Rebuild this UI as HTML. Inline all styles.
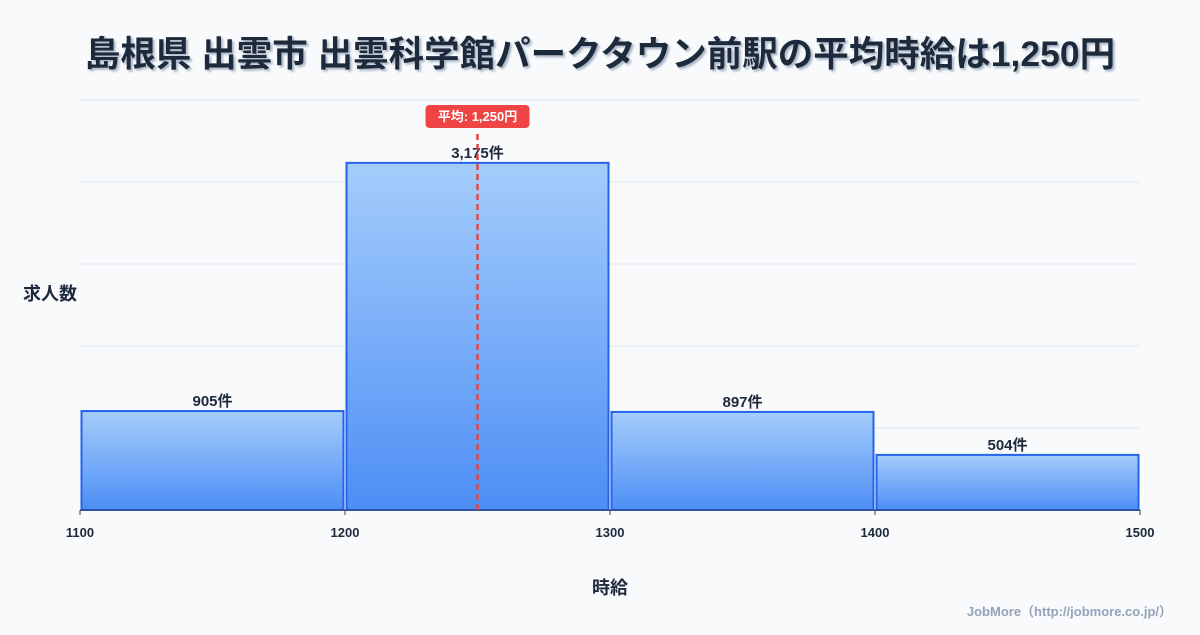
<!DOCTYPE html>
<html><head><meta charset="utf-8">
<style>
body{margin:0;background:#f8fafc;font-family:"Liberation Sans","Noto Sans CJK JP",sans-serif;}
svg text{font-family:"Liberation Sans","Noto Sans CJK JP",sans-serif;}
</style></head>
<body>
<svg id="chart" width="1200" height="630" viewBox="0 0 1200 630">
<defs>
<linearGradient id="g" x1="0" y1="0" x2="0" y2="1">
<stop offset="0" stop-color="#a5cdfb"/><stop offset="1" stop-color="#4d8ef5"/>
</linearGradient>
<filter id="sh"><feDropShadow dx="2" dy="2" stdDeviation="1" flood-color="#94a3b8" flood-opacity="0.8"/></filter>
</defs>
<text x="600" y="66" text-anchor="middle" font-size="35.5" font-weight="bold" fill="#1e293b" filter="url(#sh)">島根県 出雲市 出雲科学館パークタウン前駅の平均時給は1,250円</text>
<g id="grid"></g>
<g id="bars"></g>
<g id="xticks"></g>
<text x="50" y="300" text-anchor="middle" font-size="18" font-weight="bold" fill="#1e293b">求人数</text>
<text x="610" y="594" text-anchor="middle" font-size="18" font-weight="bold" fill="#1e293b">時給</text>
<text x="1172" y="616" text-anchor="end" font-size="13" font-weight="bold" fill="#94a3b8">JobMore（http://jobmore.co.jp/）</text>
<g id="mean"></g>
</svg>
<script>
const binStarts=[1100,1200,1300,1400];
const counts=[905,3175,897,504];
const countLabels=["905件","3,175件","897件","504件"];
const xTicks=[1100,1200,1300,1400,1500];
const meanValue=1250;
const meanLabel="平均: 1,250円";
const yMax=3750, yStep=750;
const NS="http://www.w3.org/2000/svg";
const X0=80,X1=1140,Y0=510,Y1=100;
const xs=v=>X0+(v-1100)/(1500-1100)*(X1-X0);
const ys=v=>Y0-v/yMax*(Y0-Y1);
function mk(tag,attrs,parent){const e=document.createElementNS(NS,tag);for(const k in attrs)e.setAttribute(k,attrs[k]);parent.appendChild(e);return e;}
const grid=document.getElementById('grid');
for(let v=0;v<=yMax;v+=yStep){
 const l=mk('line',{x1:X0,x2:X1,y1:ys(v),y2:ys(v),stroke:'#e2e8f0','stroke-width':1},grid);
 
 
}
const bars=document.getElementById('bars');
counts.forEach((c,i)=>{
 const xa=xs(binStarts[i])+1.5,xb=xs(binStarts[i]+100)-1.5;
 const r=mk('rect',{x:xa,y:ys(c),width:xb-xa,height:Y0-ys(c),fill:'url(#g)',stroke:'#2563eb','stroke-width':2},bars);
 
 
 const t=mk('text',{x:(xa+xb)/2,y:ys(c)-5,'text-anchor':'middle','font-size':15,'font-weight':'bold',fill:'#1e293b'},bars);
 t.textContent=countLabels[i];
 
 
});
const xt=document.getElementById('xticks');
mk('line',{x1:X0,x2:X1,y1:Y0,y2:Y0,stroke:'#334155','stroke-width':1},xt);
xTicks.forEach(v=>{
 mk('line',{x1:xs(v),x2:xs(v),y1:Y0,y2:Y0+5,stroke:'#334155'},xt);
 const t=mk('text',{x:xs(v),y:537,'text-anchor':'middle','font-size':13,'font-weight':'bold',fill:'#1e293b'},xt);
 t.textContent=v;
 
 
});
const m=document.getElementById('mean');
const mx=xs(meanValue);
const ml=mk('line',{x1:mx,x2:mx,y1:134,y2:Y0,stroke:'#e04848','stroke-width':2.5,'stroke-dasharray':'6,4'},m);


const mr=mk('rect',{x:mx-52,y:105,width:104,height:23,rx:4,fill:'#ef4444'},m);


const mt=mk('text',{x:mx,y:121,'text-anchor':'middle','font-size':13,'font-weight':'bold',fill:'#fff'},m);
mt.textContent=meanLabel;


</script>
</body></html>
